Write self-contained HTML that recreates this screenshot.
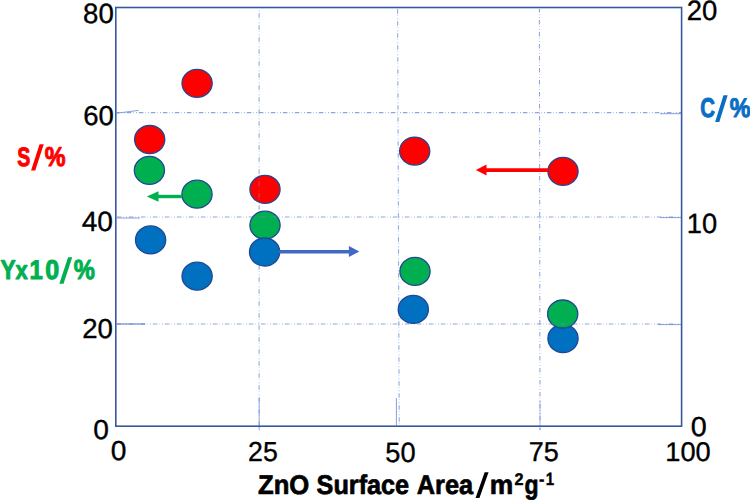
<!DOCTYPE html>
<html>
<head>
<meta charset="utf-8">
<style>
html,body{margin:0;padding:0;background:#fff;}
body{width:750px;height:500px;overflow:hidden;position:relative;}
svg{position:absolute;left:0;top:0;display:block;}
text{font-family:"Liberation Sans",sans-serif;font-kerning:none;text-rendering:geometricPrecision;}
</style>
</head>
<body>
<svg width="750" height="500" viewBox="0 0 750 500">
  <rect x="0" y="0" width="750" height="500" fill="#fff"/>
  <!-- grid lines -->
  <g stroke="#6F90D8" stroke-width="1.05" stroke-opacity="0.8" stroke-dasharray="4.6 1.8 0.5 2.3 0.8 2.0" fill="none">
    <line x1="117" y1="112.6" x2="681" y2="112.6" stroke-dashoffset="2.2"/>
    <line x1="117" y1="216.9" x2="681" y2="216.9" stroke-dashoffset="0.2"/>
    <line x1="117" y1="324" x2="681" y2="324" stroke-dashoffset="0.2"/>
    <line x1="259.1" y1="9" x2="259.1" y2="430" stroke-dashoffset="7.8"/>
    <line x1="397.6" y1="9" x2="399.2" y2="426" stroke-dashoffset="11.8"/>
    <line x1="539.4" y1="9" x2="540" y2="430" stroke-dashoffset="1"/>
  </g>
  <g stroke="#5A7CC8" stroke-width="0.9" stroke-opacity="0.8" fill="none">
    <line x1="116.5" y1="113.2" x2="138.6" y2="110.4"/>
    <line x1="660" y1="113.7" x2="681" y2="113.7"/>
    <line x1="116.5" y1="218" x2="140" y2="218"/>
    <line x1="660" y1="217.6" x2="681" y2="217.6"/>
    <line x1="658" y1="324.6" x2="681" y2="324.6"/>
    <line x1="396.4" y1="398" x2="396.4" y2="425.5"/>
    <line x1="259.2" y1="398" x2="259.2" y2="430.5" stroke="#7090D8"/>
    <line x1="540" y1="400" x2="540" y2="430" stroke="#7090D8" stroke-opacity="0.6"/>
  </g>
  <line x1="116.5" y1="324" x2="145" y2="324" stroke="#5A7CC8" stroke-width="1.3" stroke-opacity="0.8"/>
  <!-- data circles -->
  <g stroke="#204694" stroke-width="1.3">
    <ellipse cx="149.4" cy="170.3" rx="15.1" ry="14.0" fill="#00B050"/>
    <ellipse cx="149.7" cy="139.5" rx="15.1" ry="14.0" fill="#FF0000"/>
    <ellipse cx="150.6" cy="239.9" rx="15.1" ry="14.0" fill="#0070C0"/>
    <ellipse cx="197.1" cy="83.3" rx="15.1" ry="14.0" fill="#FF0000"/>
    <ellipse cx="197" cy="194.2" rx="15.1" ry="14.0" fill="#00B050"/>
    <ellipse cx="197.1" cy="276.2" rx="15.1" ry="14.0" fill="#0070C0"/>
    <ellipse cx="265" cy="189.3" rx="15.1" ry="14.0" fill="#FF0000"/>
    <ellipse cx="265" cy="225.2" rx="15.1" ry="14.0" fill="#00B050"/>
    <ellipse cx="264.6" cy="252" rx="15.1" ry="14.0" fill="#0070C0"/>
    <ellipse cx="414.7" cy="151.1" rx="15.1" ry="14.0" fill="#FF0000"/>
    <ellipse cx="415" cy="271.4" rx="15.1" ry="14.0" fill="#00B050"/>
    <ellipse cx="413.3" cy="309.4" rx="15.1" ry="14.0" fill="#0070C0"/>
    <ellipse cx="563" cy="171.3" rx="15.1" ry="14.0" fill="#FF0000"/>
    <ellipse cx="563" cy="338.5" rx="15.1" ry="14.0" fill="#0070C0"/>
    <ellipse cx="562.7" cy="314" rx="15.1" ry="14.0" fill="#00B050"/>
  </g>
  <!-- arrows -->
  <line x1="182" y1="196.5" x2="157" y2="196.5" stroke="#00B050" stroke-width="3.4"/>
  <polygon points="146.8,196.5 158.5,191.2 158.5,201.8" fill="#00B050"/>
  <line x1="279" y1="251.7" x2="350" y2="251.7" stroke="#4169C4" stroke-width="3.6"/>
  <polygon points="359.3,251.6 348.9,246 348.9,257" fill="#4169C4"/>
  <line x1="548" y1="170.1" x2="485" y2="170.1" stroke="#FF0000" stroke-width="3.8"/>
  <polygon points="475.9,170 486.5,164.5 486.5,175.5" fill="#FF0000"/>
  <!-- faint grid overlays -->
  <clipPath id="cr3"><ellipse cx="265" cy="189.3" rx="15.1" ry="14.0"/></clipPath>
  <clipPath id="cg3"><ellipse cx="265" cy="225.2" rx="15.1" ry="14.0"/></clipPath>
  <clipPath id="cg5"><ellipse cx="562.7" cy="314" rx="15.1" ry="14.0"/></clipPath>
  <g stroke="#6F90D8" stroke-width="1.3" stroke-opacity="0.45" stroke-dasharray="4.6 1.8 0.5 2.3 0.8 2.0" fill="none">
    <line x1="259.1" y1="9" x2="259.1" y2="430" stroke-dashoffset="7.8" clip-path="url(#cr3)"/>
    <line x1="117" y1="216.9" x2="681" y2="216.9" stroke-dashoffset="0.2" clip-path="url(#cg3)"/>
    <line x1="117" y1="324" x2="681" y2="324" stroke-dashoffset="0.2" clip-path="url(#cg5)"/>
  </g>
  <!-- frame -->
  <rect x="115.8" y="7.5" width="565.8" height="418.7" fill="none" stroke="#3558A0" stroke-width="1.6"/>
  <!-- text -->
  <text transform="translate(83.12 22.50) scale(0.9904 1)" font-size="27.90" fill="#000" stroke="#000" stroke-width="0.35" stroke-linejoin="round">80</text>
  <text transform="translate(83.23 124.61) scale(1.0022 1)" font-size="27.47" fill="#000" stroke="#000" stroke-width="0.35" stroke-linejoin="round">60</text>
  <text transform="translate(81.78 230.50) scale(1.0052 1)" font-size="27.90" fill="#000" stroke="#000" stroke-width="0.35" stroke-linejoin="round">40</text>
  <text transform="translate(82.24 338.11) scale(1.0053 1)" font-size="27.47" fill="#000" stroke="#000" stroke-width="0.35" stroke-linejoin="round">20</text>
  <text transform="translate(93.23 438.61) scale(1.0242 1)" font-size="27.47" fill="#000" stroke="#000" stroke-width="0.35" stroke-linejoin="round">0</text>
  <text transform="translate(686.64 20.10) scale(0.9865 1)" font-size="27.90" fill="#000" stroke="#000" stroke-width="0.35" stroke-linejoin="round">20</text>
  <text transform="translate(686.84 232.50) scale(0.9797 1)" font-size="27.90" fill="#000" stroke="#000" stroke-width="0.35" stroke-linejoin="round">10</text>
  <text transform="translate(690.80 435.51) scale(1.0471 1)" font-size="27.47" fill="#000" stroke="#000" stroke-width="0.35" stroke-linejoin="round">0</text>
  <text transform="translate(110.73 460.31) scale(1.0242 1)" font-size="27.47" fill="#000" stroke="#000" stroke-width="0.35" stroke-linejoin="round">0</text>
  <text transform="translate(248.08 460.61) scale(0.9725 1)" font-size="27.47" fill="#000" stroke="#000" stroke-width="0.35" stroke-linejoin="round">25</text>
  <text transform="translate(385.23 462.10) scale(0.9767 1)" font-size="27.90" fill="#000" stroke="#000" stroke-width="0.35" stroke-linejoin="round">50</text>
  <text transform="translate(528.64 460.91) scale(0.9851 1)" font-size="27.45" fill="#000" stroke="#000" stroke-width="0.35" stroke-linejoin="round">75</text>
  <text transform="translate(665.35 460.71) scale(1.0057 1)" font-size="27.05" fill="#000" stroke="#000" stroke-width="0.35" stroke-linejoin="round">100</text>
  <text transform="translate(17.29 165.69) scale(0.7354 1)" font-size="26.55" font-weight="bold" fill="#FF0000" stroke="#FF0000" stroke-width="1.0" stroke-linejoin="round">S</text>
  <polygon points="31.05,170.45 35.25,170.45 43.75,144.15 39.55,144.15" fill="#FF0000"/>
  <text transform="translate(44.67 165.74) scale(0.8572 1)" font-size="27.29" font-weight="bold" fill="#FF0000" stroke="#FF0000" stroke-width="1.0" stroke-linejoin="round">%</text>
  <text transform="translate(700.22 117.49) scale(0.7501 1)" font-size="27.12" font-weight="bold" fill="#0A6EC4" stroke="#0A6EC4" stroke-width="1.0" stroke-linejoin="round">C</text>
  <polygon points="715.15,122.05 719.35,122.05 727.65,95.25 723.45,95.25" fill="#0A6EC4"/>
  <text transform="translate(729.67 117.34) scale(0.8663 1)" font-size="27.00" font-weight="bold" fill="#0A6EC4" stroke="#0A6EC4" stroke-width="1.0" stroke-linejoin="round">%</text>
  <text transform="translate(0.56 279.35) scale(0.8359 1)" font-size="27.18" font-weight="bold" fill="#00B050" stroke="#00B050" stroke-width="1.0" stroke-linejoin="round">Y</text>
  <text transform="translate(15.50 279.35) scale(0.8467 1)" font-size="25.93" font-weight="bold" fill="#00B050" stroke="#00B050" stroke-width="1.0" stroke-linejoin="round">x</text>
  <text transform="translate(29.45 279.35) scale(0.8871 1)" font-size="26.89" font-weight="bold" fill="#00B050" stroke="#00B050" stroke-width="1.0" stroke-linejoin="round">1</text>
  <text transform="translate(45.26 279.48) scale(0.9179 1)" font-size="27.26" font-weight="bold" fill="#00B050" stroke="#00B050" stroke-width="1.0" stroke-linejoin="round">0</text>
  <polygon points="59.35,283.85 63.55,283.85 72.25,257.35 68.05,257.35" fill="#00B050"/>
  <text transform="translate(73.66 279.13) scale(0.8570 1)" font-size="27.71" font-weight="bold" fill="#00B050" stroke="#00B050" stroke-width="1.0" stroke-linejoin="round">%</text>
  <text transform="translate(258.04 493.90) scale(0.9491 1)" font-size="27.00" font-weight="bold" fill="#000" stroke="#000" stroke-width="0.7" stroke-linejoin="round">ZnO</text>
  <text transform="translate(316.57 493.90) scale(0.9348 1)" font-size="27.00" font-weight="bold" fill="#000" stroke="#000" stroke-width="0.7" stroke-linejoin="round">Surface</text>
  <text transform="translate(416.77 493.90) scale(0.9389 1)" font-size="27.00" font-weight="bold" fill="#000" stroke="#000" stroke-width="0.7" stroke-linejoin="round">Area</text>
  <polygon points="475.55,497.95 479.45,497.95 488.55,472.25 484.65,472.25" fill="#000"/>
  <text transform="translate(489.86 493.90) scale(0.9779 1)" font-size="27.00" font-weight="bold" fill="#000" stroke="#000" stroke-width="0.7" stroke-linejoin="round">m</text>
  <text transform="translate(514.39 484.65) scale(0.9587 1)" font-size="16.90" font-weight="bold" fill="#000" stroke="#000" stroke-width="0.4" stroke-linejoin="round">2</text>
  <text transform="translate(524.45 493.90) scale(0.8543 1)" font-size="27.00" font-weight="bold" fill="#000" stroke="#000" stroke-width="0.7" stroke-linejoin="round">g</text>
  <text transform="translate(538.66 485.84) scale(0.8446 1)" font-size="20.98" font-weight="bold" fill="#000">-</text>
  <text transform="translate(545.70 484.95) scale(0.8483 1)" font-size="17.73" font-weight="bold" fill="#000" stroke="#000" stroke-width="0.4" stroke-linejoin="round">1</text>
</svg>
</body>
</html>
